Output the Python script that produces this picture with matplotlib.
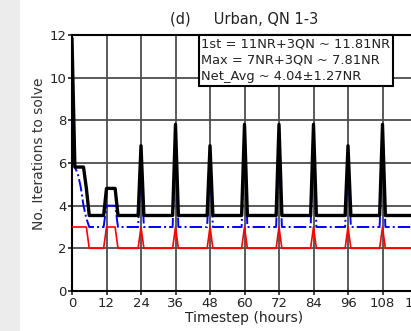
import matplotlib
matplotlib.use("Agg")
import matplotlib.pyplot as plt
from matplotlib.patches import Rectangle

# ---- data ----
hours = [0, 1, 2, 3, 4, 5, 6, 11, 12, 15, 16, 23, 24, 25, 35, 36, 37,
         47, 48, 49, 59, 60, 61, 71, 72, 73, 83, 84, 85, 95, 96, 97,
         107, 108, 109, 120]
total_nr = [11.81, 5.81, 5.81, 5.81, 5.81, 4.81, 3.54, 3.54, 4.81, 4.81, 3.54,
            3.54, 6.81, 3.54, 3.54, 7.81, 3.54, 3.54, 6.81, 3.54, 3.54, 7.81,
            3.54, 3.54, 7.81, 3.54, 3.54, 7.81, 3.54, 3.54, 6.81, 3.54,
            3.54, 7.81, 3.54, 3.54]
nr_iters = [11, 5.8, 5.5, 4.9, 4.0, 3.4, 3, 3, 4, 4, 3,
            3, 6, 3, 3, 7, 3, 3, 6, 3, 3, 7,
            3, 3, 7, 3, 3, 7, 3, 3, 6, 3,
            3, 7, 3, 3]
qn_iters = [3, 3, 3, 3, 3, 3, 2, 2, 3, 3, 2,
            2, 3, 2, 2, 3, 2, 2, 3, 2, 2, 3,
            2, 2, 3, 2, 2, 3, 2, 2, 3, 2,
            2, 3, 2, 2]
xticks = [0, 12, 24, 36, 48, 60, 72, 84, 96, 108, 120]
yticks = [0, 2, 4, 6, 8, 10, 12]
title = "(d)     Urban, QN 1-3"
info = "1st = 11NR+3QN ~ 11.81NR\nMax = 7NR+3QN ~ 7.81NR\nNet_Avg ~ 4.04\u00b11.27NR"

fig = plt.figure(figsize=(4.11, 3.31), dpi=100)
fig.patches.append(Rectangle((0, 0), 20 / 411, 1, transform=fig.transFigure,
                             facecolor="#ececec", edgecolor="none", zorder=-10))

ax = fig.add_axes([72 / 411, 40 / 331, 345 / 411, 256 / 331])
ax.plot(hours, nr_iters, color="blue", lw=1.4, ls="-.", zorder=3)
ax.plot(hours, qn_iters, color="red", lw=1.2, zorder=4)
ax.plot(hours, total_nr, color="black", lw=2.4, zorder=5)

ax.set_xlim(0, 120)
ax.set_ylim(0, 12)
ax.set_xticks(xticks)
ax.set_yticks(yticks)
ax.grid(True, color="0.3", lw=1.3)
ax.set_axisbelow(True)
for s in ax.spines.values():
    s.set_linewidth(1.5)
ax.tick_params(labelsize=9.5, length=3, width=1.2, pad=1, colors="#222")

ax.set_title(title, fontsize=10.5, pad=8, color="#222")
ax.set_xlabel("Timestep (hours)", fontsize=10, labelpad=1, color="#222")
ax.set_ylabel("No. Iterations to solve", fontsize=10, color="#333")
ax.yaxis.set_label_coords(-0.075, 0.537)

ax.text(0.375, 0.99, info, transform=ax.transAxes, ha="left", va="top",
        fontsize=9.4, color="#222", linespacing=1.33, zorder=10,
        bbox=dict(boxstyle="square,pad=0.2", facecolor="white",
                  edgecolor="black", linewidth=1.5))

fig.savefig("out.png", dpi=100)
